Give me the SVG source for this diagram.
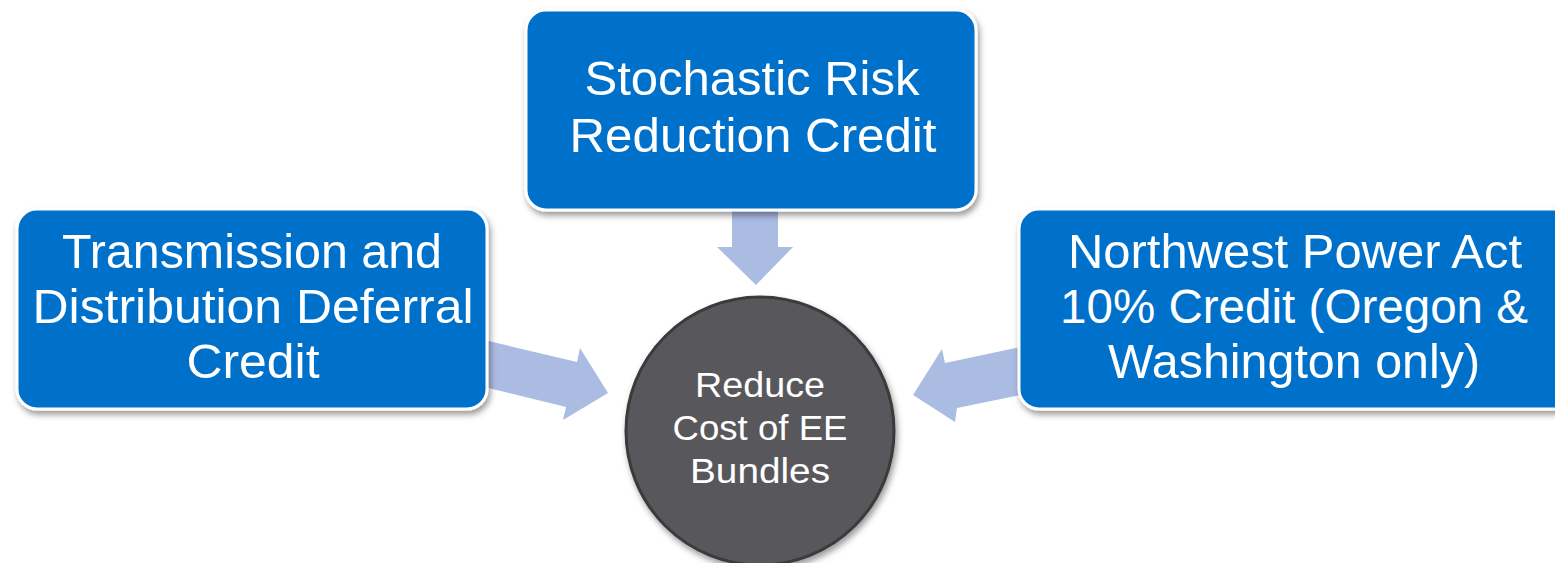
<svg xmlns="http://www.w3.org/2000/svg" width="1555" height="563" viewBox="0 0 1555 563">
<defs>
<filter id="sh" x="-10%" y="-10%" width="125%" height="130%">
<feDropShadow dx="2" dy="4" stdDeviation="3" flood-color="#000" flood-opacity="0.4"/>
</filter>
<style>
.box{fill:#0071CA;stroke:#ffffff;stroke-width:3;filter:url(#sh)}
.circ{fill:#58595B;stroke:#3A3A3A;stroke-width:3;filter:url(#sh)}
.arr{fill:#ABBCE3}
.t{font-family:"Liberation Sans",Arial,sans-serif;fill:#ffffff;text-anchor:middle}
.big{font-size:48px}
.sm{font-size:35px}
</style>
</defs>
<rect width="1555" height="563" fill="#ffffff"/>
<g id="connectors">
<polygon class="arr" points="732,205 778,205 778,247 793,247 756,285 717,247 732,247"/>
<polygon class="arr" points="480,339 577,362 580,348 608,393 563,420 566,407 480,386"/>
<polygon class="arr" points="1025,346 945,363 942,349 913,395 955,422 957,408 1025,394"/>
</g>
<g id="node-stochastic">
<rect class="box" x="526" y="10" width="450" height="200" rx="20"/>
<text class="t big" x="752" y="95" textLength="335" lengthAdjust="spacingAndGlyphs">Stochastic Risk</text>
<text class="t big" x="753" y="152" textLength="367" lengthAdjust="spacingAndGlyphs">Reduction Credit</text>
</g>
<g id="node-td">
<rect class="box" x="17" y="209" width="470" height="200" rx="20"/>
<text class="t big" x="252" y="268" textLength="380" lengthAdjust="spacingAndGlyphs">Transmission and</text>
<text class="t big" x="253" y="323" textLength="441" lengthAdjust="spacingAndGlyphs">Distribution Deferral</text>
<text class="t big" x="253" y="378" textLength="133" lengthAdjust="spacingAndGlyphs">Credit</text>
</g>
<g id="node-nwpa">
<rect class="box" x="1019" y="209" width="555" height="200" rx="20"/>
<text class="t big" x="1295" y="268" textLength="454" lengthAdjust="spacingAndGlyphs">Northwest Power Act</text>
<text class="t big" x="1294" y="323" textLength="468" lengthAdjust="spacingAndGlyphs">10% Credit (Oregon &amp;</text>
<text class="t big" x="1294" y="378" textLength="372" lengthAdjust="spacingAndGlyphs">Washington only)</text>
</g>
<g id="node-reduce">
<circle class="circ" cx="760" cy="431" r="134"/>
<text class="t sm" x="760" y="397" textLength="130" lengthAdjust="spacingAndGlyphs">Reduce</text>
<text class="t sm" x="760" y="440" textLength="175" lengthAdjust="spacingAndGlyphs">Cost of EE</text>
<text class="t sm" x="760" y="483" textLength="140" lengthAdjust="spacingAndGlyphs">Bundles</text>
</g>
</svg>
